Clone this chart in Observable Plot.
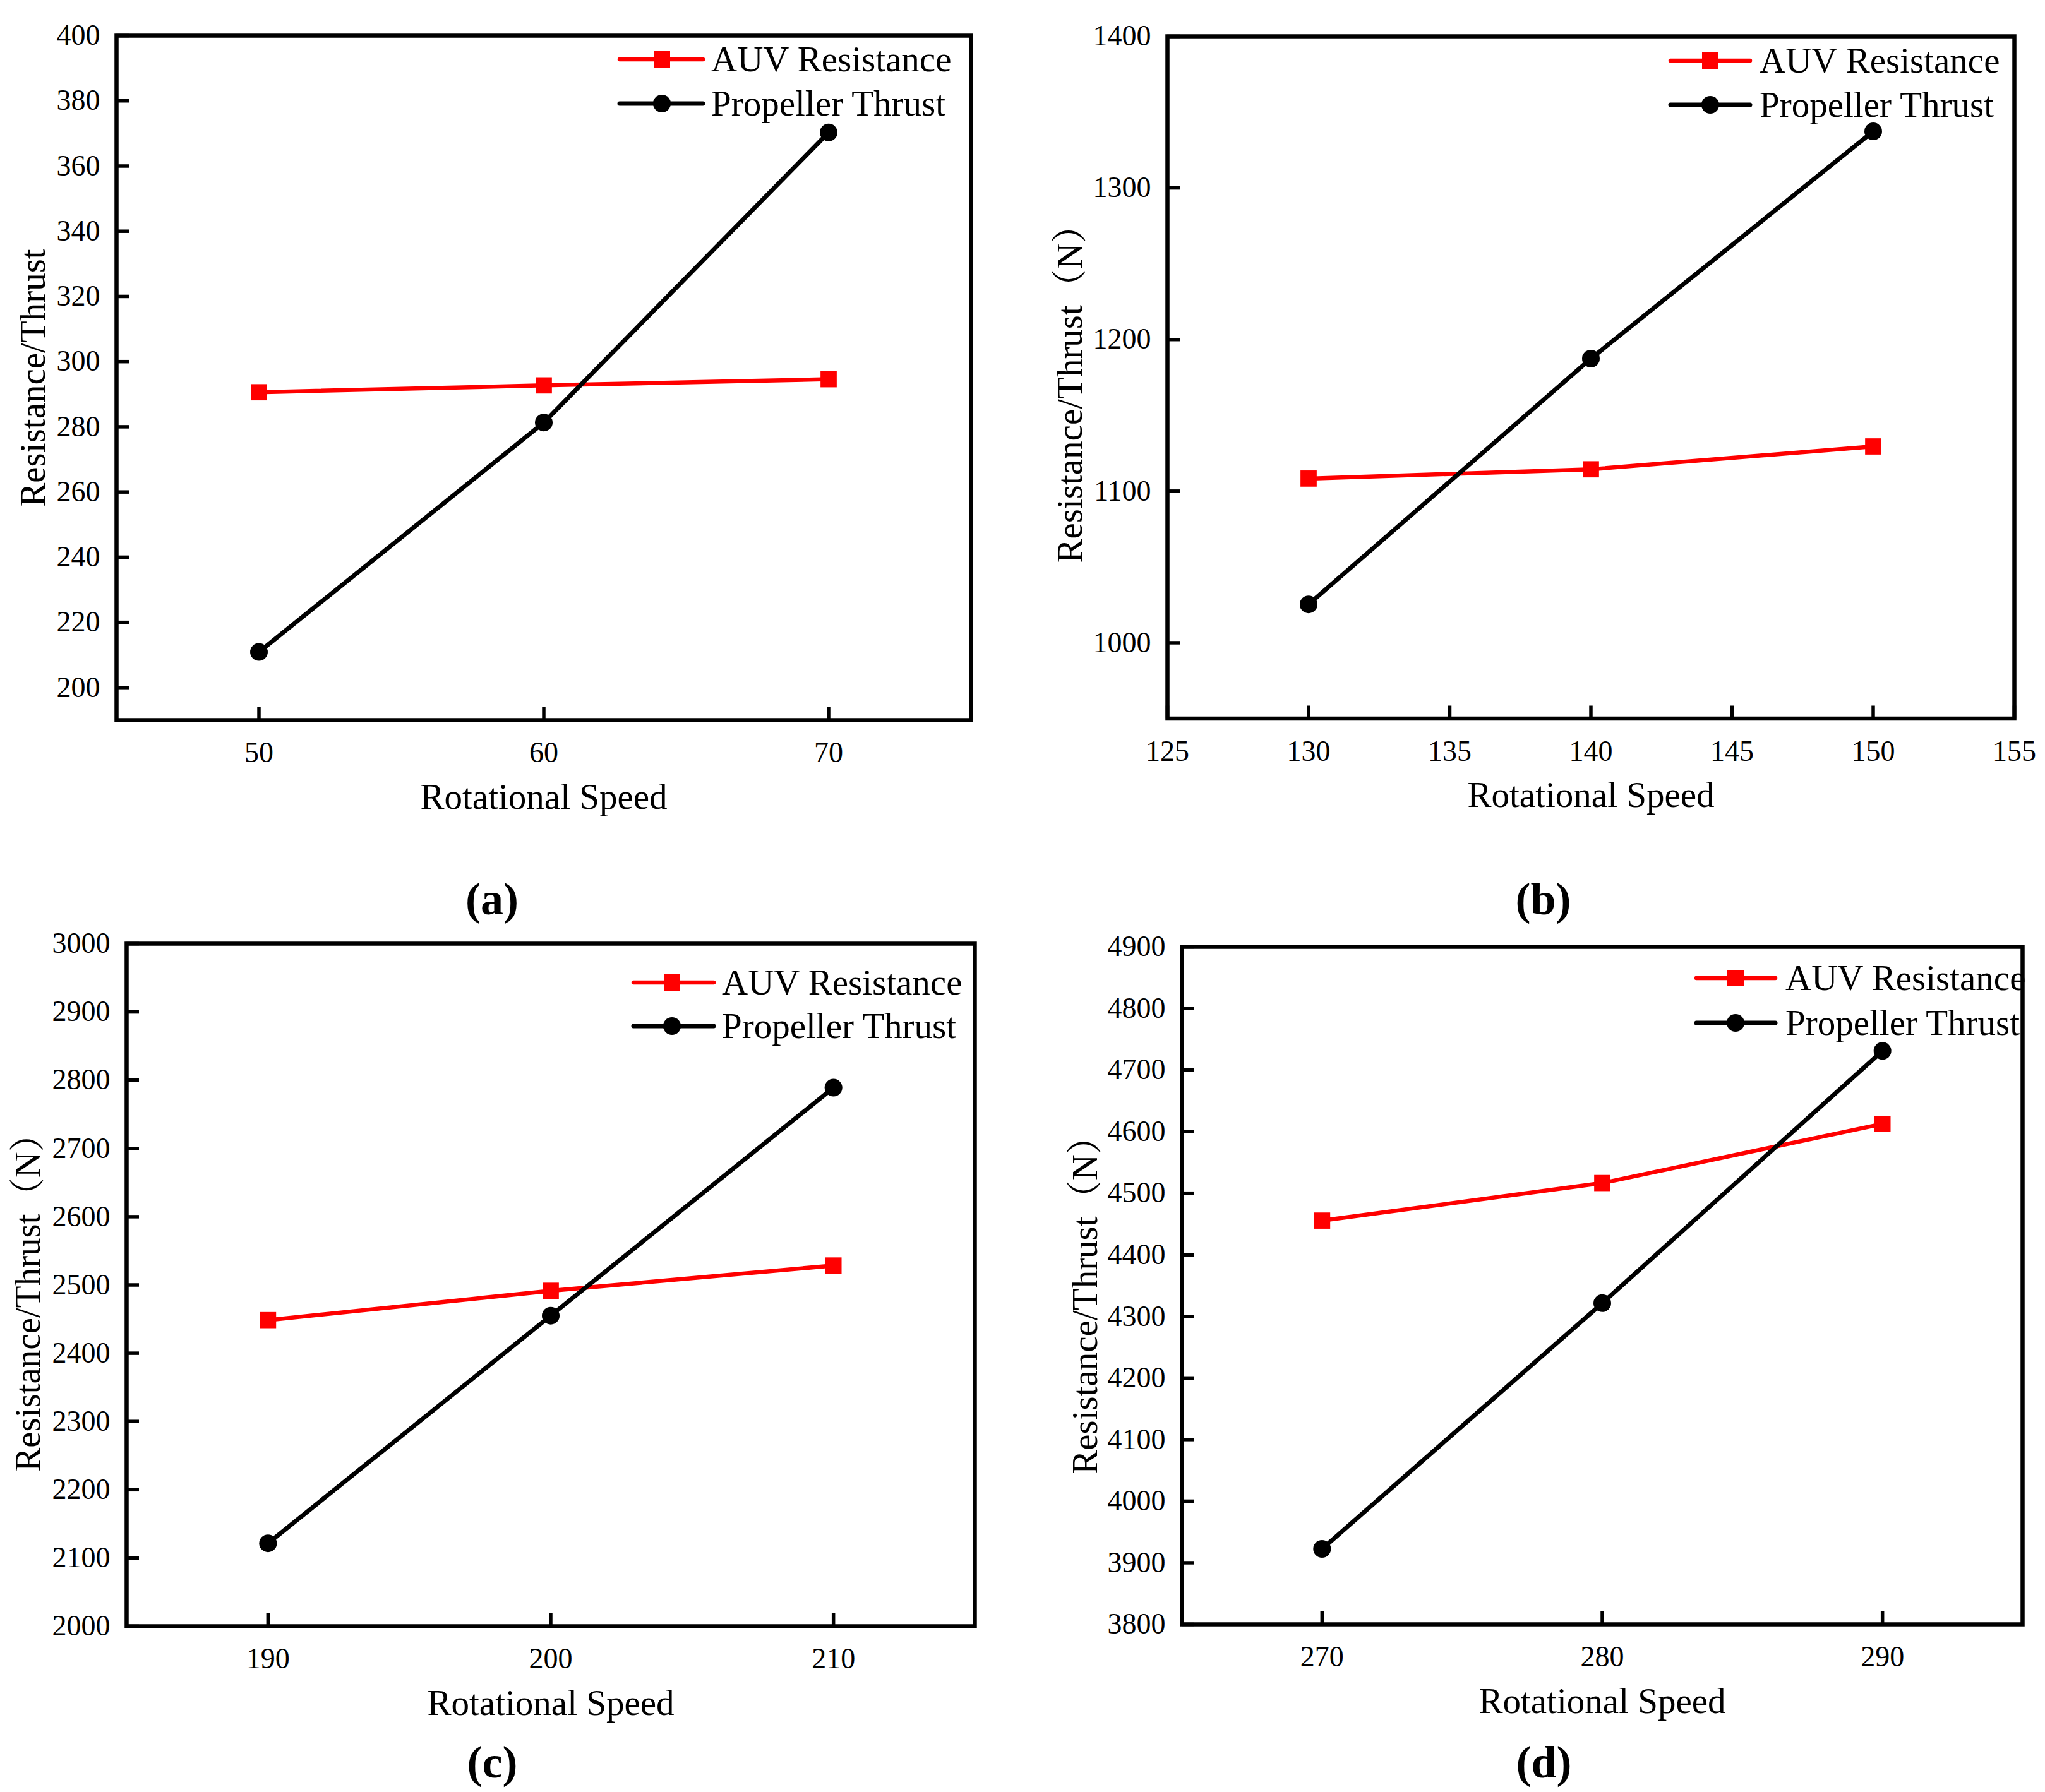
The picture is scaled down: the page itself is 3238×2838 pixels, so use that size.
<!DOCTYPE html>
<html>
<head>
<meta charset="utf-8">
<script src="https://cdn.jsdelivr.net/npm/d3@7"></script>
<script src="https://cdn.jsdelivr.net/npm/@observablehq/plot@0.6"></script>
<style>
  html, body { margin: 0; padding: 0; background: #fff; }
  #page { position: relative; width: 3238px; height: 2838px; background: #fff; overflow: hidden; }
  #page svg { position: absolute; max-width: none; }
</style>
</head>
<body>
<div id="page"></div>
<script>
// ---------- data ----------
const speedA = [50, 60, 70];
const resistanceA = [290.6, 292.7, 294.6];
const thrustA = [210.9, 281.3, 370.3];

const speedB = [130, 140, 150];
const resistanceB = [1108.3, 1114.4, 1129.5];
const thrustB = [1025.3, 1187.4, 1337.3];

const speedC = [190, 200, 210];
const resistanceC = [2448.5, 2491.5, 2528.5];
const thrustC = [2121.5, 2455, 2789];

const speedD = [270, 280, 290];
const resistanceD = [4455.5, 4516.5, 4612.5];
const thrustD = [3922.5, 4321.5, 4731];

// axis extents and tick labels
const xDomainA = [45, 75];   const yDomainA = [190, 400];
const xDomainB = [125, 155]; const yDomainB = [950, 1400];
const xDomainC = [185, 215]; const yDomainC = [2000, 3000];
const xDomainD = [265, 295]; const yDomainD = [3800, 4900];

const xTicksA = [50, 60, 70];
const yTicksA = [200, 220, 240, 260, 280, 300, 320, 340, 360, 380, 400];
const xTicksB = [125, 130, 135, 140, 145, 150, 155];
const yTicksB = [1000, 1100, 1200, 1300, 1400];
const xTicksC = [190, 200, 210];
const yTicksC = [2000, 2100, 2200, 2300, 2400, 2500, 2600, 2700, 2800, 2900, 3000];
const xTicksD = [270, 280, 290];
const yTicksD = [3800, 3900, 4000, 4100, 4200, 4300, 4400, 4500, 4600, 4700, 4800, 4900];

const seriesNames = ["AUV Resistance", "Propeller Thrust"];
const xLabel = "Rotational Speed";
const yLabels = ["Resistance/Thrust", "Resistance/Thrust（N）", "Resistance/Thrust（N）", "Resistance/Thrust（N）"];
const captions = ["(a)", "(b)", "(c)", "(d)"];

// ---------- styling / layout ----------
const FONT = "'Liberation Serif', 'Times New Roman', 'Noto Serif CJK SC', 'Noto Sans CJK SC', serif";
const RED = "#ff0000";

const panels = [
  { speed: speedA, resistance: resistanceA, thrust: thrustA, xDomain: xDomainA, yDomain: yDomainA,
    xTicks: xTicksA, yTicks: yTicksA, yLabel: yLabels[0], caption: captions[0],
    L: { left: 0, top: 0, width: 1619, height: 1470, ml: 184, mr: 82, mt: 56, mb: 330,
         yLabOff: 114, yLabDy: 0, capDx: -82, capDy: 307,
         lg: { x1: 981, x2: 1113, mx: 1048, tx: 1126, rows: [94, 164] } } },
  { speed: speedB, resistance: resistanceB, thrust: thrustB, xDomain: xDomainB, yDomain: yDomainB,
    xTicks: xTicksB, yTicks: yTicksB, yLabel: yLabels[1], caption: captions[1],
    L: { left: 1619, top: 0, width: 1619, height: 1470, ml: 229, mr: 49, mt: 57, mb: 332.5,
         yLabOff: 136, yLabDy: 12, capDx: -75.5, capDy: 309.5,
         lg: { x1: 1026, x2: 1152, mx: 1089, tx: 1167, rows: [96, 166] } } },
  { speed: speedC, resistance: resistanceC, thrust: thrustC, xDomain: xDomainC, yDomain: yDomainC,
    xTicks: xTicksC, yTicks: yTicksC, yLabel: yLabels[2], caption: captions[2],
    L: { left: 0, top: 1470, width: 1619, height: 1368, ml: 200, mr: 76, mt: 24, mb: 263,
         yLabOff: 138, yLabDy: 14, capDx: -92.5, capDy: 239,
         lg: { x1: 1003, x2: 1130, mx: 1064, tx: 1143, rows: [86, 155] } } },
  { speed: speedD, resistance: resistanceD, thrust: thrustD, xDomain: xDomainD, yDomain: yDomainD,
    xTicks: xTicksD, yTicks: yTicksD, yLabel: yLabels[3], caption: captions[3],
    L: { left: 1619, top: 1470, width: 1619, height: 1368, ml: 252, mr: 36, mt: 29, mb: 266,
         yLabOff: 135, yLabDy: 17, capDx: -92.5, capDy: 242,
         lg: { x1: 1067, x2: 1192, mx: 1129, tx: 1208, rows: [79, 150] } } }
];

const page = document.getElementById("page");

function makePanel(p) {
  const L = p.L;
  const res = p.speed.map((s, i) => ({ speed: s, value: p.resistance[i] }));
  const thr = p.speed.map((s, i) => ({ speed: s, value: p.thrust[i] }));
  const svg = Plot.plot({
    width: L.width, height: L.height,
    marginLeft: L.ml, marginRight: L.mr, marginTop: L.mt, marginBottom: L.mb,
    style: { fontFamily: FONT, fontSize: "46px", background: "transparent", overflow: "visible", color: "black" },
    x: { domain: p.xDomain },
    y: { domain: p.yDomain },
    marks: [
      Plot.line(res, { x: "speed", y: "value", stroke: RED, strokeWidth: 6.5 }),
      Plot.dot(res, { x: "speed", y: "value", symbol: "square", r: 14.5, fill: RED, stroke: "none" }),
      Plot.line(thr, { x: "speed", y: "value", stroke: "black", strokeWidth: 7 }),
      Plot.dot(thr, { x: "speed", y: "value", symbol: "circle", r: 14, fill: "black", stroke: "none" }),
      Plot.axisX({ ticks: p.xTicks, tickSize: -20, tickPadding: 54, strokeWidth: 5.5, fontSize: 46,
                   label: null, tickFormat: d => String(d) }),
      Plot.axisY({ ticks: p.yTicks, tickSize: -20, tickPadding: 46, strokeWidth: 5.5, fontSize: 46,
                   label: null, tickFormat: d => String(d) }),
      Plot.frame({ stroke: "black", strokeWidth: 6.5 }),
      Plot.text([xLabel], { frameAnchor: "bottom", textAnchor: "middle", dy: 140, lineAnchor: "bottom",
                            fontSize: 57, text: d => d }),
      Plot.text([p.yLabel], { frameAnchor: "left", textAnchor: "middle", dx: -L.yLabOff, dy: L.yLabDy, rotate: -90,
                              lineAnchor: "bottom", fontSize: 57, text: d => d }),
      Plot.text([p.caption], { frameAnchor: "bottom", textAnchor: "middle", dx: L.capDx, dy: L.capDy,
                               lineAnchor: "bottom", fontSize: 72, fontWeight: "bold", text: d => d })
    ]
  });
  svg.style.left = L.left + "px";
  svg.style.top = L.top + "px";

  // legend
  const g = d3.select(svg).append("g").attr("class", "legend")
    .attr("text-anchor", "start")
    .style("font-family", FONT).style("font-size", "57px");
  const colors = [RED, "black"];
  seriesNames.forEach((name, k) => {
    const y = L.lg.rows[k];
    g.append("line").attr("x1", L.lg.x1).attr("x2", L.lg.x2).attr("y1", y).attr("y2", y)
      .attr("stroke", colors[k]).attr("stroke-width", k === 0 ? 6.5 : 7).attr("stroke-linecap", "round");
    if (k === 0) {
      g.append("rect").attr("x", L.lg.mx - 13).attr("y", y - 13).attr("width", 26).attr("height", 26)
        .attr("fill", RED);
    } else {
      g.append("circle").attr("cx", L.lg.mx).attr("cy", y).attr("r", 14).attr("fill", "black");
    }
    g.append("text").attr("x", L.lg.tx).attr("y", y + 19).attr("text-anchor", "start")
      .attr("fill", "black").text(name);
  });
  page.appendChild(svg);
}

panels.forEach(makePanel);
</script>
</body>
</html>
